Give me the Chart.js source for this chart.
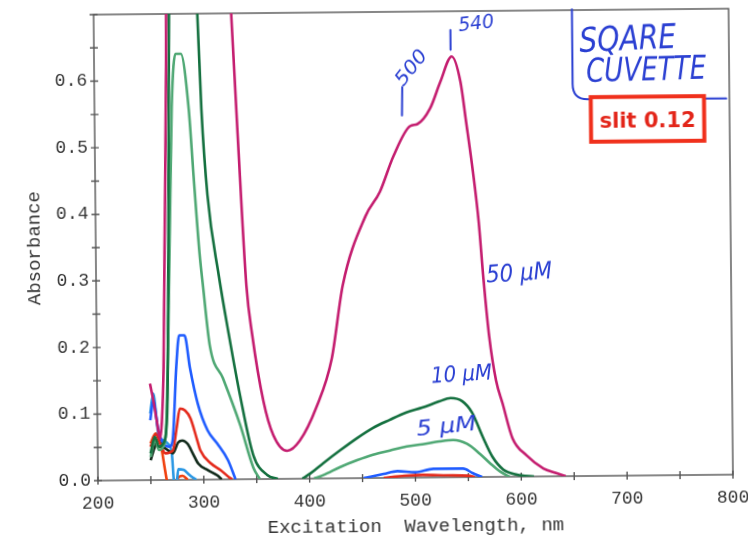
<!DOCTYPE html>
<html>
<head>
<meta charset="utf-8">
<script src="https://cdn.jsdelivr.net/npm/chart.js"></script>
<style>
  html, body { margin: 0; padding: 0; background: #fff; }
  #chart { display: block; transform: rotate(-0.54deg); transform-origin: 50% 50%; }
</style>
</head>
<body>
<canvas id="chart" width="748" height="541"></canvas>
<script>
// tick labels
const xTickLabels = [200, 300, 400, 500, 600, 700, 800];
const yTickLabels = ['0.0', '0.1', '0.2', '0.3', '0.4', '0.5', '0.6'];

// traces: wavelength (nm) / absorbance, null = gap on the baseline
const nm50 = [250, 253, 256, 259, 261, 263, 265, 268, 271, 280, 300, 322, 330, 335, 342, 347, 357, 366, 379, 391, 407, 422, 433, 455, 469, 482, 498, 505, 517, 527, 538, 546, 551, 557, 562, 566, 571, 577, 583, 592, 605, 621, 633, 642];
const abs50 = [0.145, 0.12, 0.09, 0.062, 0.09, 0.17, 0.35, 0.62, 1.1, 1.9, 1.5, 0.95, 0.70, 0.52, 0.29, 0.217, 0.117, 0.066, 0.042, 0.057, 0.107, 0.18, 0.29, 0.393, 0.43, 0.483, 0.528, 0.531, 0.554, 0.594, 0.632, 0.594, 0.534, 0.459, 0.384, 0.298, 0.21, 0.145, 0.11, 0.058, 0.032, 0.012, 0.005, 0];

const nm10 = [250, 254, 258, 262, 266, 269, 272, 280, 290, 298, 301, 306, 316, 325, 335, 347, 360, 370, 380, 393, 401, 413, 429, 445, 460, 476, 492, 507, 523, 534, 545, 554, 564, 573, 583, 596, 612];
const abs10 = [0.04, 0.065, 0.05, 0.055, 0.1, 0.4, 0.8, 1.2, 0.95, 0.70, 0.557, 0.427, 0.306, 0.217, 0.126, 0.036, 0.006, 0, null, 0, 0.008, 0.023, 0.042, 0.06, 0.075, 0.087, 0.098, 0.105, 0.114, 0.119, 0.114, 0.097, 0.06, 0.03, 0.011, 0.003, 0];

const nm5 = [250, 254, 258, 262, 265, 269, 273, 277, 282, 289, 293, 298, 301, 307, 319, 335, 347, 353, 380, 404, 413, 429, 445, 460, 476, 492, 507, 523, 536, 549, 561, 571, 580, 589];
const abs5 = [0.035, 0.06, 0.045, 0.05, 0.08, 0.3, 0.56, 0.64, 0.64, 0.558, 0.457, 0.34, 0.29, 0.20, 0.152, 0.081, 0.017, 0, null, 0, 0.005, 0.017, 0.027, 0.035, 0.041, 0.047, 0.05, 0.054, 0.056, 0.05, 0.035, 0.02, 0.008, 0];

const nmBlue = [250, 253, 257, 262, 268, 271, 275, 278, 283, 288, 295, 304, 313, 323, 330, 400, 451, 470, 483, 500, 517, 545, 554, 563];
const absBlue = [0.09, 0.12, 0.08, 0.055, 0.05, 0.06, 0.17, 0.217, 0.217, 0.167, 0.114, 0.074, 0.054, 0.029, 0, null, 0, 0.006, 0.01, 0.008, 0.013, 0.013, 0.006, 0];

const nmRed = [250, 255, 259, 264, 271, 275, 278, 283, 288, 294, 297, 307, 316, 324, 327, 400, 470, 490, 507, 530, 550, 556];
const absRed = [0.05, 0.069, 0.055, 0.04, 0.044, 0.08, 0.107, 0.104, 0.092, 0.06, 0.044, 0.024, 0.014, 0.003, 0, null, 0, 0.003, 0.004, 0.003, 0.002, 0];

const nmBlack = [250, 254, 257, 262, 266, 271, 276, 280, 285, 290, 295, 304, 313, 317];
const absBlack = [0.03, 0.05, 0.06, 0.05, 0.045, 0.04, 0.056, 0.059, 0.054, 0.039, 0.024, 0.014, 0.006, 0];

const nmCyan = [250, 253, 256, 258, 262, 266, 270, 272, 274, 276, 281, 286, 290, 293];
const absCyan = [0.10, 0.13, 0.09, 0.063, 0.06, 0.055, 0.04, -0.005, -0.008, 0.016, 0.015, 0.008, 0.003, 0];

const nmOrange = [250, 255, 260, 263, 265, 268, 272, 275, 280, 285];
const absOrange = [0.055, 0.07, 0.05, 0.02, 0, -0.02, -0.01, 0.002, 0.006, 0];

const traces = [
  { label: '50 µM', nm: nm50, abs: abs50, color: '#c41d6f' },
  { label: '10 µM', nm: nm10, abs: abs10, color: '#14703f' },
  { label: '5 µM', nm: nm5, abs: abs5, color: '#4fa874' },
  { label: 'blue', nm: nmBlue, abs: absBlue, color: '#1f5cff' },
  { label: 'red', nm: nmRed, abs: absRed, color: '#e42a1c' },
  { label: 'black', nm: nmBlack, abs: absBlack, color: '#10291a' },
  { label: 'cyan', nm: nmCyan, abs: absCyan, color: '#2b98e4' },
  { label: 'orange', nm: nmOrange, abs: absOrange, color: '#f0400e' }
];

const INK = '#2a3fd2';
const AXIS = '#555';

function scribble(ctx, text, px, py, width, size, angle) {
  ctx.save();
  ctx.translate(px, py);
  ctx.rotate(angle * Math.PI / 180);
  ctx.font = 'italic ' + size + 'px "DejaVu Sans"';
  ctx.scale(width / ctx.measureText(text).width, 1);
  ctx.fillStyle = INK;
  ctx.textAlign = 'left';
  ctx.textBaseline = 'alphabetic';
  ctx.fillText(text, 0, 0);
  ctx.restore();
}

const scanNotes = {
  id: 'scanNotes',
  beforeDatasetsDraw(chart) {
    const { ctx, chartArea: a, scales: { x, y } } = chart;
    ctx.save();
    ctx.strokeStyle = AXIS;
    ctx.lineWidth = 1.4;
    ctx.strokeRect(a.left, a.top, a.right - a.left, a.bottom - a.top);
    // ticks cross the axis lines
    ctx.beginPath();
    x.ticks.forEach(t => {
      const px = x.getPixelForValue(t.value);
      ctx.moveTo(px, a.bottom + 4); ctx.lineTo(px, a.bottom - 4);
    });
    y.ticks.forEach(t => {
      const py = y.getPixelForValue(t.value);
      ctx.moveTo(a.left - 4, py); ctx.lineTo(a.left + 4, py);
    });
    ctx.stroke();
    ctx.restore();
  },
  afterDatasetsDraw(chart) {
    const { ctx, scales: { x, y } } = chart;
    const at = (nm, v) => [x.getPixelForValue(nm), y.getPixelForValue(v)];

    // handwritten labels
    scribble(ctx, '50 µM', ...at(569, 0.292), 66, 24, -3);
    scribble(ctx, '10 µM', ...at(516, 0.142), 61, 22, -3);
    scribble(ctx, '5 µM', ...at(502, 0.063), 60, 21, -5);
    scribble(ctx, '500', ...at(492, 0.587), 40, 19, -51);
    scribble(ctx, '540', ...at(545, 0.670), 36, 19, -6);
    scribble(ctx, 'SQARE', ...at(659, 0.637), 97, 34, -2);
    scribble(ctx, 'CUVETTE', ...at(665, 0.592), 120, 33, -1);

    ctx.save();
    ctx.strokeStyle = INK;
    ctx.lineWidth = 2;
    ctx.lineCap = 'round';
    ctx.beginPath();
    ctx.moveTo(...at(491, 0.587)); ctx.lineTo(...at(490.5, 0.544));
    ctx.moveTo(...at(537, 0.672)); ctx.lineTo(...at(537, 0.642));
    // bracket round the cuvette note
    const [bx, bTop] = at(652, 0.701);
    const [, bLow] = at(652, 0.589);
    const [cx, cy] = at(666, 0.566);
    const [ex, ey] = at(797, 0.565);
    ctx.moveTo(bx, bTop);
    ctx.lineTo(bx, bLow);
    ctx.quadraticCurveTo(bx, cy, cx, cy);
    ctx.lineTo(ex, ey);
    ctx.stroke();
    ctx.restore();

    // slit box
    const [l, t] = at(669, 0.569);
    const [r, b] = at(776, 0.502);
    ctx.save();
    ctx.fillStyle = '#fff';
    ctx.fillRect(l, t, r - l, b - t);
    ctx.strokeStyle = '#f0301c';
    ctx.lineWidth = 4;
    ctx.strokeRect(l, t, r - l, b - t);
    ctx.fillStyle = '#e3261a';
    ctx.font = 'bold 21px "DejaVu Sans"';
    ctx.textAlign = 'center';
    ctx.textBaseline = 'alphabetic';
    ctx.fillText('slit 0.12', ...at(722.5, 0.523));
    ctx.restore();
  }
};

const monoFamily = '"Liberation Mono", "DejaVu Sans Mono", monospace';
const tickFont = { family: monoFamily, size: 18 };
const titleFont = { family: monoFamily, size: 19 };

new Chart(document.getElementById('chart'), {
  type: 'line',
  data: {
    datasets: traces.map(tr => ({
      label: tr.label,
      data: tr.nm.map((v, i) => ({ x: v, y: tr.abs[i] })),
      borderColor: tr.color,
      borderWidth: 2.6,
      pointRadius: 0,
      fill: false,
      spanGaps: false,
      cubicInterpolationMode: 'monotone'
    }))
  },
  options: {
    responsive: false,
    animation: false,
    devicePixelRatio: 1,
    layout: { padding: { top: 12, right: 17, left: 0, bottom: 0 } },
    plugins: { legend: { display: false }, tooltip: { enabled: false } },
    scales: {
      x: {
        type: 'linear',
        min: 200,
        max: 800,
        border: { display: false },
        grid: { drawOnChartArea: false, drawTicks: true, tickLength: 12, tickColor: 'rgba(0,0,0,0)' },
        ticks: {
          stepSize: 50,
          autoSkip: false,
          maxRotation: 0,
          padding: 0,
          color: '#333',
          font: tickFont,
          callback: v => xTickLabels.includes(v) ? String(v) : ''
        },
        title: {
          display: true,
          text: 'Excitation  Wavelength, nm',
          color: '#333',
          font: titleFont,
          padding: { top: 0, bottom: 3 }
        },
        afterFit: s => { s.height = 63; }
      },
      y: {
        min: 0,
        max: 0.7,
        border: { display: false },
        grid: { drawOnChartArea: false, drawTicks: true, tickLength: 7, tickColor: 'rgba(0,0,0,0)' },
        ticks: {
          stepSize: 0.05,
          autoSkip: false,
          padding: 0,
          color: '#333',
          font: tickFont,
          callback: v => {
            const lbl = (Math.round(v * 100) / 100).toFixed(1);
            return Math.round(v * 100) % 10 === 0 && yTickLabels.includes(lbl) ? lbl : '';
          }
        },
        title: {
          display: true,
          text: 'Absorbance',
          color: '#333',
          font: titleFont,
          padding: { top: 24, bottom: 0 }
        },
        afterFit: s => { s.width = 96; }
      }
    }
  },
  plugins: [scanNotes]
});
</script>
</body>
</html>
